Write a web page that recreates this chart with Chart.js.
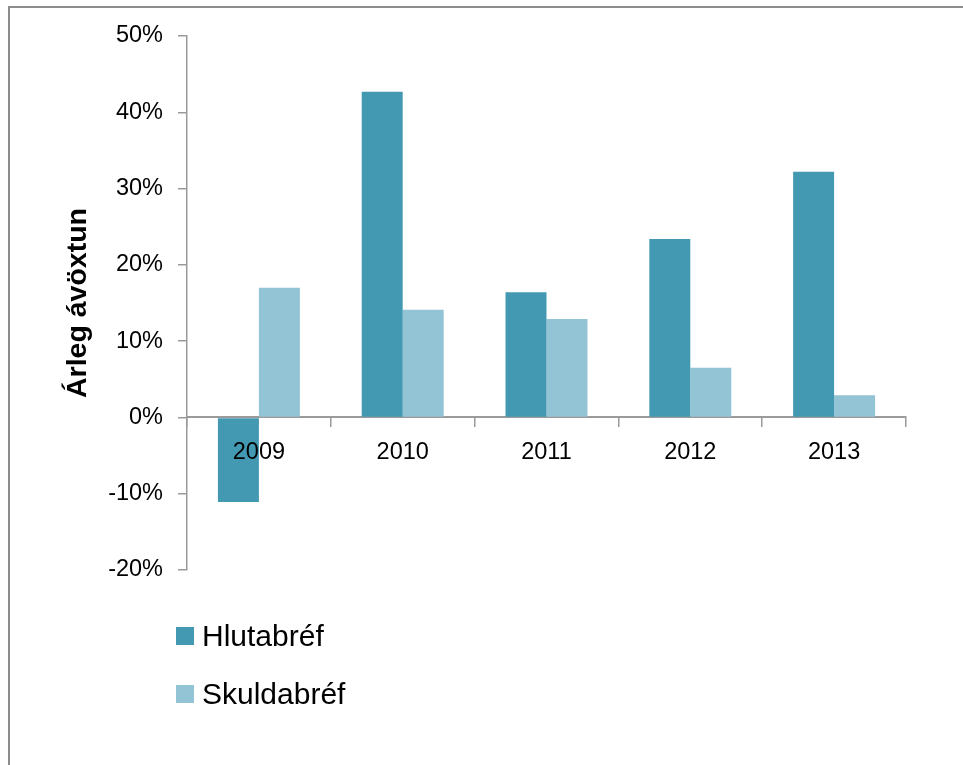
<!DOCTYPE html>
<html lang="is">
<head>
<meta charset="utf-8">
<title>Árleg ávöxtun</title>
<script src="https://cdn.jsdelivr.net/npm/chart.js@4"></script>
<style>
  html, body { margin: 0; padding: 0; background: #fff; }
  #wrap { position: relative; width: 963px; height: 765px; overflow: hidden; }
  #frame {
    position: absolute; left: 8px; top: 6px; right: -4px; bottom: -4px;
    border-top: 2px solid #8c8c8c; border-left: 2px solid #8c8c8c;
  }
  #chart { position: absolute; left: 0; top: 0; }
  .legend {
    position: absolute; left: 176px;
    font-family: "Liberation Sans", Arial, sans-serif; font-size: 30px; color: #000;
  }
  .legend span.box {
    position: absolute; left: 0; top: 0; width: 18px; height: 18px;
  }
  .legend span.txt { position: absolute; left: 26px; white-space: nowrap; line-height: 1; }
</style>
</head>
<body>
<div id="wrap">
  <div id="frame"></div>
  <canvas id="chart" width="963" height="765"></canvas>
  <div id="legend"></div>
</div>
<script>
/* data */
const years = ['2009', '2010', '2011', '2012', '2013'];
const hlutabref = [-11.1, 42.7, 16.4, 23.4, 32.2];
const skuldabref = [17.0, 14.1, 12.9, 6.5, 2.9];
const seriesNames = ['Hlutabréf', 'Skuldabréf'];
const seriesColors = ['#4399b1', '#93c4d5'];
const yTicks = [-20, -10, 0, 10, 20, 30, 40, 50];

const axisColor = '#9a9a9a';
const fontFamily = '"Liberation Sans", Arial, sans-serif';

const ctx = document.getElementById('chart').getContext('2d');

new Chart(ctx, {
    type: 'bar',
    data: {
        labels: years,
        datasets: [{
            label: seriesNames[0],
            data: hlutabref,
            backgroundColor: seriesColors[0],
            categoryPercentage: 0.57,
            barPercentage: 1.0
        }, {
            label: seriesNames[1],
            data: skuldabref,
            backgroundColor: seriesColors[1],
            categoryPercentage: 0.57,
            barPercentage: 1.0
        }]
    },
    options: {
        responsive: false,
        animation: false,
        layout: {
            padding: { left: 58, right: 57, top: 36, bottom: 195 }
        },
        scales: {
            x: {
                position: { y: 0 },
                grid: {
                    offset: true,
                    drawOnChartArea: false,
                    drawTicks: true,
                    tickLength: 9,
                    color: axisColor,
                    lineWidth: 1.5
                },
                border: { color: axisColor, width: 2 },
                ticks: {
                    z: 1, // year labels sit on top of the bars
                    color: '#000',
                    padding: 12,
                    font: { family: fontFamily, size: 23.5 }
                }
            },
            y: {
                min: -20,
                max: 50,
                afterBuildTicks: function(scale) {
                    scale.ticks = yTicks.map(v => ({ value: v }));
                },
                afterFit: function(scale) {
                    scale.width = 129;
                },
                grid: {
                    drawOnChartArea: false,
                    drawTicks: true,
                    tickLength: 9,
                    color: axisColor,
                    lineWidth: 1.5
                },
                border: { color: axisColor, width: 1.5 },
                ticks: {
                    color: '#000',
                    padding: 15,
                    font: { family: fontFamily, size: 23.5 },
                    callback: function(value) {
                        return value + '%';
                    }
                },
                title: {
                    display: true,
                    text: 'Árleg ávöxtun',
                    color: '#000',
                    padding: { top: 3, bottom: 0 },
                    font: { family: fontFamily, size: 28.5, weight: 'bold' }
                }
            }
        },
        plugins: {
            legend: { display: false },
            tooltip: { enabled: false }
        }
    }
});

/* legend below the plot, one item per row */
const legendTops = [627, 685];
const legendEl = document.getElementById('legend');
seriesNames.forEach(function(name, i) {
    const item = document.createElement('div');
    item.className = 'legend';
    item.style.top = legendTops[i] + 'px';
    item.innerHTML = '<span class="box" style="background:' + seriesColors[i] + '"></span>' +
        '<span class="txt" style="top:-6px">' + name + '</span>';
    legendEl.appendChild(item);
});
</script>
</body>
</html>
